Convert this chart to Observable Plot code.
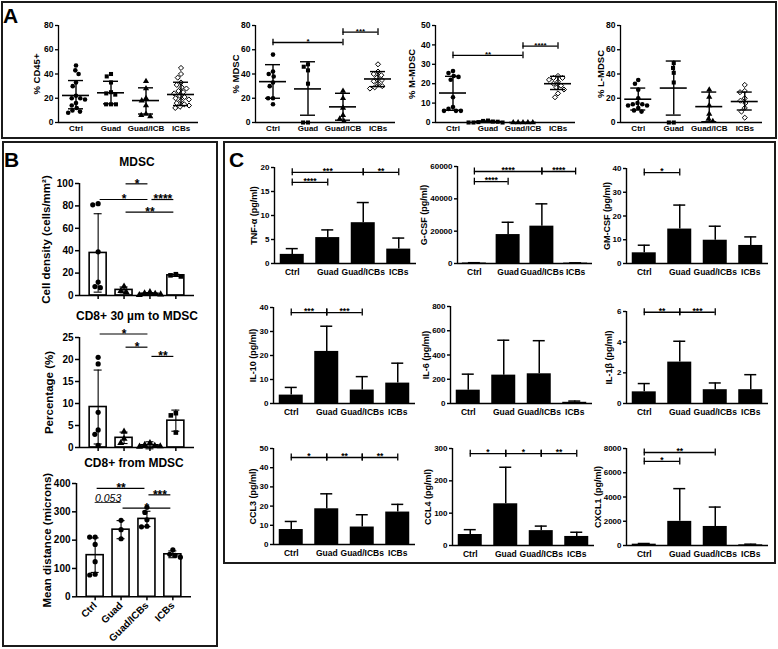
<!DOCTYPE html>
<html><head><meta charset="utf-8">
<script src="https://cdn.jsdelivr.net/npm/d3@7"></script>
<script src="https://cdn.jsdelivr.net/npm/@observablehq/plot@0.6"></script>
<style>
body{margin:0;background:#fff;}
#fig{position:relative;width:778px;height:649px;background:#fff;overflow:hidden;font-family:"Liberation Sans",Arial,Helvetica,sans-serif;}
.box{position:absolute;border:2px solid #1b1b1b;box-sizing:border-box;}
.lett{position:absolute;font-weight:bold;font-size:21px;line-height:21px;color:#000;}
</style></head>
<body><div id="fig">
<div class="box" style="left:1px;top:1px;width:776px;height:138px"></div>
<div class="box" style="left:2px;top:141px;width:216px;height:506px"></div>
<div class="box" style="left:223px;top:141px;width:553px;height:423px"></div>
<div class="lett" style="left:3px;top:5px">A</div>
<div class="lett" style="left:4px;top:149px">B</div>
<div class="lett" style="left:229px;top:149px">C</div>
</div>
<script>
// ---------------- Panel A data (% of cells; points, mean, SD limits) ----------------
const groupsA = ["Ctrl", "Guad", "Guad/ICB", "ICBs"];
const cd45Pts = [[47,43,40,33,30,22,20,20,19,16,14,12,10,9,8],[40,38,33,25,24,23,15,15,15],[34,28,20,18,14,7,6,5],[45,40,37,33,31,29,28,26,25,24,22,21,20,19,18,16,15,14,13,12]];
const cd45Mean = [22.3, 24.5, 18.1, 23.1];
const cd45Lo = [11.3, 15.4, 7, 14];
const cd45Hi = [34.6, 34, 28.6, 33.2];

const mdscPts = [[56,42,40,38,33,30,20,20,15],[48,46,43,32,0,0],[26,20,12,6,3,1],[48,42,40,39,37,35,34,32,30,29,28]];
const mdscMean = [33.7, 27.7, 12.9, 35.9];
const mdscLo = [20, 6, 1.9, 29.6];
const mdscHi = [47.7, 50.1, 24.1, 42];
const mdscSig = [["Ctrl","Guad/ICB",66,"*"],["Guad/ICB","ICBs",74.5,"***"]];

const mmdscPts = [[26.5,25.5,24,23.5,22,13,8,7,6,6,6],[1,0.8,0.5,0.4,0.2,0,0,0],[0,0,0,0,0],[24,23,23,22,21,20,19,18,17,15,13]];
const mmdscMean = [15.2, 0.4, 0, 20];
const mmdscLo = [6.3, 0, 0, 17];
const mmdscHi = [23.8, 0.8, 0, 23.8];
const mmdscSig = [["Ctrl","Guad/ICB",34.6,"**"],["Guad/ICB","ICBs",39.4,"****"]];

const lmdscPts = [[35,32,27,20,16,15,15,14,14,12,10,9],[49,45,41,33,0,0],[27,21,14,7,3,1],[31,26,25,20,18,16,12,9,4]];
const lmdscMean = [19.2, 28.4, 13.1, 17.3];
const lmdscLo = [10.3, 6.1, 0.6, 10.3];
const lmdscHi = [28.4, 50.7, 25.1, 25.1];

const ticksA80 = [0, 20, 40, 60, 80];
const ticksA50 = [0, 10, 20, 30, 40, 50];

// ---------------- Panel B data (points, mean, SD) ----------------
const groupsB = ["Ctrl", "Guad", "Guad/ICBs", "ICBs"];
const densPts = [[82,81,39,12,8,7],[8,4,3],[3,2,1.5,1,0.5],[19,18,17]];
const densMean = [38, 5, 1.6, 18];
const densSD = [35, 2.6, 1, 1];
const densSig = [["Guad","Guad/ICBs",99.7,"*"],["Ctrl","Guad/ICBs",85.7,"*"],["Guad/ICBs","ICBs",85.7,"****"],["Guad","ICBs",74.4,"**"]];

const pctPts = [[20.5,19,8,4,3,0.5],[3.6,2,1],[1,0.6,0.4,0.3,0.2],[7.8,7.3,3.4]];
const pctMean = [9.2, 2.2, 0.5, 6.1];
const pctSD = [8.4, 1.3, 0.8, 2.4];
const pctSig = [["Ctrl","Guad/ICBs",25.8,"*"],["Guad","Guad/ICBs",22.8,"*"],["Guad/ICBs","ICBs",20.7,"**"]];

const distPts = [[211,211,185,124,80,77],[270,237,205],[316,298,272,249,247],[166,150,146,140]];
const distMean = [147, 237, 275, 150];
const distSD = [61, 32, 27, 12];
const distSig = [["Ctrl","Guad/ICBs",383,"**"],["Guad/ICBs","ICBs",360,"***"],["Guad","ICBs",313,"*"]];
const distP = [["Ctrl","Guad",333,"0.053"]];

const ticksB100 = [0, 20, 40, 60, 80, 100];
const ticksB25 = [0, 5, 10, 15, 20, 25];
const ticksB400 = [0, 100, 200, 300, 400];

// ---------------- Panel C data (mean, upper SD) ----------------
const groupsC = ["Ctrl", "Guad", "Guad/ICBs", "ICBs"];
const tnfMean = [1.9, 5.4, 8.5, 3.0], tnfHi = [3.1, 7.0, 12.7, 5.3];
const tnfSig = [["Ctrl","Guad",16.9,"****"],["Ctrl","Guad/ICBs",19,"***"],["Guad/ICBs","ICBs",19,"**"]];
const gcsfMean = [300, 17900, 23100, 250], gcsfHi = [500, 25500, 36900, 400];
const gcsfSig = [["Ctrl","Guad",50600,"****"],["Ctrl","Guad/ICBs",56900,"****"],["Guad/ICBs","ICBs",56900,"****"]];
const gmcsfMean = [4.5, 14.5, 9.8, 7.6], gmcsfHi = [7.7, 24.6, 15.7, 11.2];
const gmcsfSig = [["Ctrl","Guad",38.3,"*"]];
const il10Mean = [3.5, 21.7, 5.6, 8.5], il10Hi = [6.7, 32.2, 11.2, 16.8];
const il10Sig = [["Ctrl","Guad",37.9,"***"],["Guad","Guad/ICBs",37.9,"***"]];
const il6Mean = [110, 234, 245, 10], il6Hi = [242, 522, 518, 20];
const il1bMean = [0.76, 2.7, 0.9, 0.9], il1bHi = [1.3, 4.06, 1.34, 1.88];
const il1bSig = [["Ctrl","Guad",5.95,"**"],["Guad","Guad/ICBs",5.95,"***"]];
const ccl3Mean = [7.8, 18.6, 9.1, 16.9], ccl3Hi = [12, 26.4, 15.5, 20.9];
const ccl3Sig = [["Ctrl","Guad",45.3,"*"],["Guad","Guad/ICBs",45.3,"**"],["Guad/ICBs","ICBs",45.3,"**"]];
const ccl4Mean = [34, 129, 46, 28], ccl4Hi = [49, 242, 60, 41];
const ccl4Sig = [["Ctrl","Guad",284,"*"],["Guad","Guad/ICBs",284,"*"],["Guad/ICBs","ICBs",284,"**"]];
const cxcl1Mean = [110, 1990, 1570, 55], cxcl1Hi = [165, 4690, 3170, 110];
const cxcl1Sig = [["Ctrl","Guad/ICBs",7670,"**"],["Ctrl","Guad",6930,"*"]];

const ticks20 = [0, 5, 10, 15, 20];
const ticks60k = [0, 20000, 40000, 60000];
const ticks40 = [0, 10, 20, 30, 40];
const ticks800 = [0, 200, 400, 600, 800];
const ticks6 = [0, 2, 4, 6];
const ticks50 = [0, 10, 20, 30, 40, 50];
const ticks300 = [0, 100, 200, 300];
const ticks8k = [0, 2000, 4000, 6000, 8000];

// ---------------- helpers ----------------
const FONT = '"Liberation Sans", Arial, Helvetica, sans-serif';
const fig = document.getElementById("fig");

const pts = (groups, vals) => groups.flatMap((g, i) => vals[i].map(v => ({g, v})));
const statsLH = (groups, mean, lo, hi) => groups.map((g, i) => ({i, g, mean: mean[i], lo: lo[i], hi: hi[i]}));
const statsSD = (groups, mean, sd) => groups.map((g, i) => ({i, g, mean: mean[i], lo: mean[i] - sd[i], hi: mean[i] + sd[i]}));

function catRule(st, key, w, sw, step) {
  const ins = Math.max(0, (step - w) / 2);
  return Plot.ruleY(st, {x1: d => d.i - 0.5, x2: d => d.i + 0.5, y: key, insetLeft: ins, insetRight: ins, strokeWidth: sw});
}

function bracketMarks(list, groups, o) {
  const d = list.map(([a, b, y, label]) => ({i1: groups.indexOf(a), i2: groups.indexOf(b), y, label}));
  const ends = d.flatMap(e => [{x: e.i1, y: e.y}, {x: e.i2, y: e.y}]);
  const m = [Plot.ruleY(d, {x1: "i1", x2: "i2", y: "y", strokeWidth: o.sw, insetLeft: o.gap || 0, insetRight: o.gap || 0})];
  if (o.cap) m.push(Plot.ruleX(ends, {x: "x", y1: "y", y2: "y", insetTop: -o.cap, insetBottom: -o.cap, strokeWidth: o.sw}));
  m.push(Plot.text(d, {x: e => (e.i1 + e.i2) / 2, y: "y", text: "label", lineAnchor: "middle", dy: o.dy, fontSize: o.fs, fontWeight: "bold"}));
  return m;
}

function subplot(c) {
  const ml = 90, mr = 30, mt = 40, mb = 70;
  const n = c.groups.length, pad = c.pad || 0;
  const xd = [-0.5 - pad, n - 0.5 + pad];
  const step = c.fw / (n + 2 * pad);
  const base = {
    width: ml + c.fw + mr, height: mt + c.fh + mb,
    marginLeft: ml, marginRight: mr, marginTop: mt, marginBottom: mb,
    style: {background: "transparent", overflow: "visible", fontFamily: FONT, fontWeight: "bold", fontSize: c.tickFont + "px", color: "#000"}
  };
  const marks = [
    ...(c.marks ? c.marks(step) : []),
    Plot.ruleX([xd[0]], {strokeWidth: c.axisW}),
    Plot.ruleY([0], {strokeWidth: c.axisW}),
    Plot.axisY({ticks: c.yTicks, tickFormat: d => String(d), tickSize: c.tickSize, tickPadding: 2, label: null, fontSize: c.tickFont, fontWeight: "bold", strokeWidth: c.axisW}),
    Plot.axisX({ticks: d3.range(n), tickFormat: c.xLabels === false ? () => "" : (i => c.groups[i]), tickSize: c.xTickSize || 0, tickPadding: c.xPad ?? 3, tickRotate: c.xRotate || 0, label: null, fontSize: c.xFont || c.tickFont, fontWeight: "bold", strokeWidth: c.axisW}),
    Plot.text([c.yLabel], {text: d => d, frameAnchor: "left", textAnchor: "middle", lineAnchor: "middle", dx: -c.yLabelOff, rotate: -90, fontSize: c.labelFont, fontWeight: "bold"})
  ];
  if (c.title) marks.push(Plot.text([c.title], {text: d => d, frameAnchor: "top", textAnchor: "middle", lineAnchor: "middle", dy: -c.titleOff, fontSize: c.titleFont, fontWeight: "bold"}));
  if (c.sig) marks.push(...bracketMarks(c.sig, c.groups, c.br));
  if (c.extra) marks.push(...c.extra(step));
  const main = Plot.plot({...base, x: {domain: xd, axis: null}, y: {domain: c.yDomain, axis: null}, marks});
  let dots = null;
  if (c.points) {
    dots = Plot.plot({...base,
      fx: {domain: c.groups, paddingInner: 0, paddingOuter: pad, axis: null, round: false},
      y: {domain: c.yDomain, axis: null},
      marks: c.groups.map((g, i) => Plot.dot(c.points.filter(d => d.g === g),
        Plot.dodgeX({anchor: "middle", padding: c.dotPad ?? 0.4},
          {fx: "g", y: "v", r: c.r, symbol: c.sym[i], fill: c.fill[i], stroke: "#000", strokeWidth: c.fill[i] === "white" ? 1 : 0})))
    });
  }
  const layers = c.dotsUnder ? [dots, main] : [main, dots];
  for (const s of layers) if (s) {
    s.style.position = "absolute";
    s.style.left = (c.left - ml) + "px";
    s.style.top = (c.top - mt) + "px";
    fig.appendChild(s);
  }
}

// ---------------- Panel A ----------------
function aMarks(st) {
  return (step) => [
    Plot.ruleX(st.filter(d => d.hi > d.lo), {x: "i", y1: "lo", y2: "hi", strokeWidth: 1.4}),
    catRule(st, "mean", 27, 1.6, step),
    catRule(st.filter(d => d.hi > d.lo), "hi", 15, 1.4, step),
    catRule(st.filter(d => d.hi > d.lo), "lo", 15, 1.4, step)
  ];
}
const Acommon = {groups: groupsA, fh: 97, top: 25, yDomain: [0, 80], yTicks: ticksA80, tickFont: 8.5, tickSize: 3, axisW: 1.3,
  xFont: 8, xPad: 3, labelFont: 9.5, r: 2.3, dotPad: 0.3, sym: ["circle", "square", "triangle", "diamond2"], fill: ["black", "black", "black", "white"],
  dotsUnder: true, br: {sw: 1.3, cap: 3.3, dy: -1, fs: 8}};

subplot({...Acommon, left: 58, fw: 140, yLabel: "% CD45+", yLabelOff: 22,
  points: pts(groupsA, cd45Pts), marks: aMarks(statsLH(groupsA, cd45Mean, cd45Lo, cd45Hi))});
subplot({...Acommon, left: 255, fw: 140, yLabel: "% MDSC", yLabelOff: 20, sig: mdscSig,
  points: pts(groupsA, mdscPts), marks: aMarks(statsLH(groupsA, mdscMean, mdscLo, mdscHi))});
subplot({...Acommon, left: 435, fw: 140, yDomain: [0, 50], yTicks: ticksA50, yLabel: "% M-MDSC", yLabelOff: 24, sig: mmdscSig,
  points: pts(groupsA, mmdscPts), marks: aMarks(statsLH(groupsA, mmdscMean, mmdscLo, mmdscHi))});
subplot({...Acommon, left: 620, fw: 142, yLabel: "% L-MDSC", yLabelOff: 20,
  points: pts(groupsA, lmdscPts), marks: aMarks(statsLH(groupsA, lmdscMean, lmdscLo, lmdscHi))});

// ---------------- Panel B ----------------
function bMarks(st) {
  return (step) => [
    Plot.rect(st, {x1: d => d.i - 0.5, x2: d => d.i + 0.5, y1: () => 0, y2: "mean", insetLeft: (step - 17) / 2, insetRight: (step - 17) / 2, fill: "white", stroke: "black", strokeWidth: 1.6}),
    Plot.ruleX(st, {x: "i", y1: "lo", y2: "hi", strokeWidth: 1.1}),
    catRule(st, "hi", 8, 1.1, step),
    catRule(st, "lo", 8, 1.1, step)
  ];
}
const Bcommon = {groups: groupsB, pad: 0.22, fw: 115, tickFont: 10, tickSize: 4, axisW: 1.5, xTickSize: 4, xLabels: false,
  labelFont: 11.5, titleFont: 12, titleOff: 21, r: 2.6, dotPad: 0.3, dotsUnder: false,
  br: {sw: 1.2, gap: 2, cap: 0, dy: 0, fs: 12}};

subplot({...Bcommon, left: 79, top: 183, fh: 112, yDomain: [0, 100], yTicks: ticksB100, yLabel: "Cell density (cells/mm²)", yLabelOff: 33,
  title: "MDSC", sig: densSig, sym: ["circle", "triangle", "triangle", "square"], fill: ["black", "black", "black", "black"],
  points: pts(groupsB, densPts), marks: bMarks(statsSD(groupsB, densMean, densSD))});
subplot({...Bcommon, left: 79, top: 337, fh: 110, yDomain: [0, 25], yTicks: ticksB25, yLabel: "Percentage (%)", yLabelOff: 30,
  title: "CD8+ 30 µm to MDSC", sig: pctSig, sym: ["circle", "triangle", "triangle", "square"], fill: ["black", "black", "black", "black"],
  points: pts(groupsB, pctPts), marks: bMarks(statsSD(groupsB, pctMean, pctSD))});
subplot({...Bcommon, left: 76, top: 482.7, fh: 113.3, yDomain: [0, 400], yTicks: ticksB400, yLabel: "Mean distance (microns)", yLabelOff: 29,
  title: "CD8+ from MDSC", titleOff: 20, sig: distSig, xLabels: true, xRotate: -45, xFont: 10, xPad: 3,
  sym: ["circle", "circle", "circle", "circle"], fill: ["black", "black", "black", "black"],
  points: pts(groupsB, distPts), marks: bMarks(statsSD(groupsB, distMean, distSD)),
  extra: () => {
    const pd = distP.map(([a, b, y, label]) => ({i1: groupsB.indexOf(a), i2: groupsB.indexOf(b), y, label}));
    return [
      Plot.ruleY(pd, {x1: "i1", x2: "i2", y: "y", strokeWidth: 0.8}),
      Plot.text(pd, {x: e => (e.i1 + e.i2) / 2, y: "y", text: "label", lineAnchor: "bottom", dy: 0, fontSize: 10.5, fontStyle: "italic", fontWeight: "normal"})
    ];
  }});

// ---------------- Panel C ----------------
function cMarks(st) {
  return (step) => [
    Plot.rect(st, {x1: d => d.i - 0.5, x2: d => d.i + 0.5, y1: () => 0, y2: "mean", insetLeft: (step - 24) / 2, insetRight: (step - 24) / 2, fill: "black"}),
    Plot.ruleX(st, {x: "i", y1: "mean", y2: "hi", strokeWidth: 1.5}),
    catRule(st, "hi", 12, 1.5, step)
  ];
}
const cst = (mean, hi) => statsLH(groupsC, mean, mean, hi);
const Ccommon = {groups: groupsC, pad: 0, fw: 142, tickFont: 8, tickSize: 3, axisW: 1.4, xFont: 8.5, xPad: 5, labelFont: 9,
  br: {sw: 1.3, cap: 3.5, dy: -1, fs: 8.5}};

subplot({...Ccommon, left: 274, top: 167, fh: 96, yDomain: [0, 20], yTicks: ticks20, yLabel: "TNF-α (pg/ml)", yLabelOff: 20, sig: tnfSig, marks: cMarks(cst(tnfMean, tnfHi))});
subplot({...Ccommon, left: 457, top: 166, fw: 135, fh: 97, yDomain: [0, 60000], yTicks: ticks60k, yLabel: "G-CSF (pg/ml)", yLabelOff: 33, sig: gcsfSig, marks: cMarks(cst(gcsfMean, gcsfHi))});
subplot({...Ccommon, left: 626, top: 168, fh: 95, yDomain: [0, 40], yTicks: ticks40, yLabel: "GM-CSF (pg/ml)", yLabelOff: 19, sig: gmcsfSig, marks: cMarks(cst(gmcsfMean, gmcsfHi))});

subplot({...Ccommon, left: 273, top: 307, fh: 96, yDomain: [0, 40], yTicks: ticks40, yLabel: "IL-10 (pg/ml)", yLabelOff: 20, sig: il10Sig, marks: cMarks(cst(il10Mean, il10Hi))});
subplot({...Ccommon, left: 450, top: 306, fh: 97, yDomain: [0, 800], yTicks: ticks800, yLabel: "IL-6 (pg/ml)", yLabelOff: 24, marks: cMarks(cst(il6Mean, il6Hi))});
subplot({...Ccommon, left: 626, top: 311, fh: 92, yDomain: [0, 6], yTicks: ticks6, yLabel: "IL-1β (pg/ml)", yLabelOff: 17, sig: il1bSig, marks: cMarks(cst(il1bMean, il1bHi))});

subplot({...Ccommon, left: 273, top: 448, fh: 96, yDomain: [0, 50], yTicks: ticks50, yLabel: "CCL3 (pg/ml)", yLabelOff: 20, sig: ccl3Sig, marks: cMarks(cst(ccl3Mean, ccl3Hi))});
subplot({...Ccommon, left: 452, top: 448, fh: 97, yDomain: [0, 300], yTicks: ticks300, yLabel: "CCL4 (pg/ml)", yLabelOff: 24, sig: ccl4Sig, marks: cMarks(cst(ccl4Mean, ccl4Hi))});
subplot({...Ccommon, left: 626, top: 448, fh: 97, yDomain: [0, 8000], yTicks: ticks8k, yLabel: "CXCL1 (pg/ml)", yLabelOff: 28, sig: cxcl1Sig, marks: cMarks(cst(cxcl1Mean, cxcl1Hi))});
</script>
</body></html>
